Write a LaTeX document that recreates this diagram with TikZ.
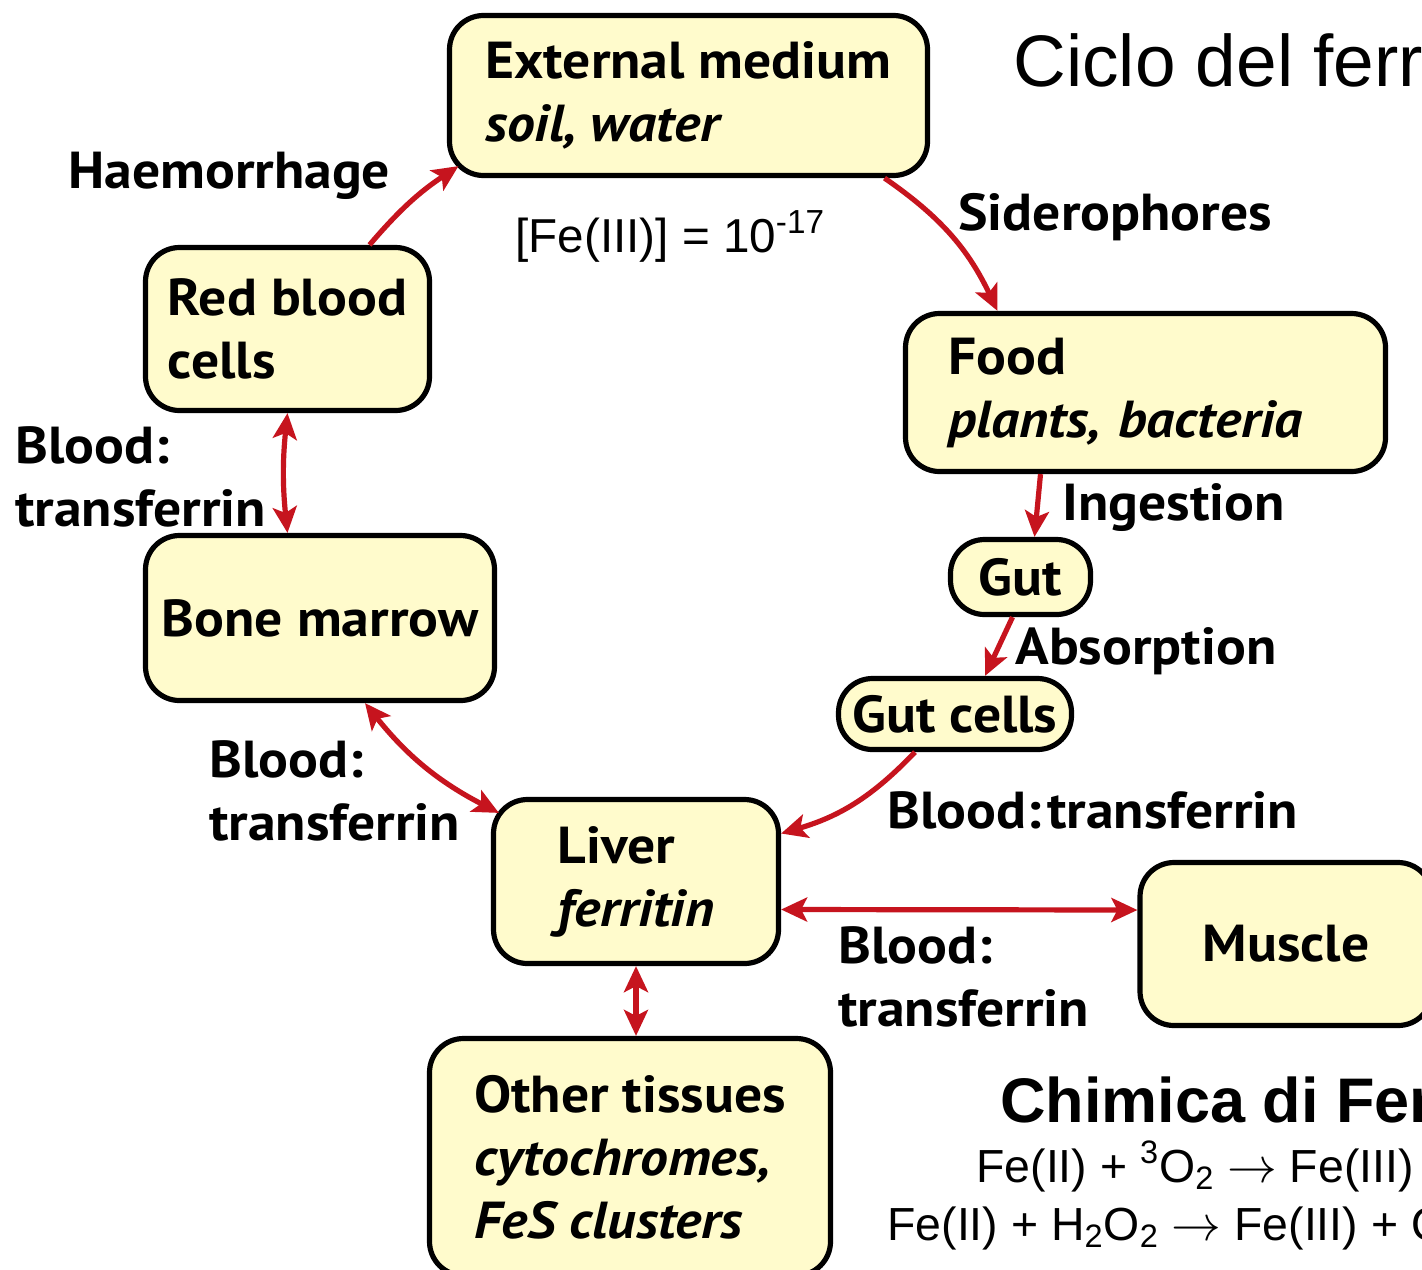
\documentclass[tikz,border=0pt]{standalone}
\usepackage{fontspec}
\setmainfont{PT Sans}[FakeStretch=1.07]
\newfontfamily\arialfont{Liberation Sans}
\usetikzlibrary{arrows.meta}
\definecolor{boxfill}{RGB}{255,251,204}
\definecolor{flowred}{RGB}{198,20,30}

\begin{document}
\frenchspacing
\begin{tikzpicture}[x=0.5pt,y=-0.5pt]
\tikzset{
  box/.style={rectangle,rounded corners=17pt,draw=black,line width=2.6pt,fill=boxfill,align=left,inner sep=0pt,font=\fontsize{26}{31.5}\selectfont\bfseries},
  flowlabel/.style={align=left,inner sep=0pt,anchor=base west,font=\fontsize{26}{31.5}\selectfont\bfseries},
  flow/.style={draw=flowred,line width=2.6pt,-{Stealth[length=13pt,width=12pt,inset=3pt]}},
  twoway/.style={flow,{Stealth[length=13pt,width=12pt,inset=3pt]}-{Stealth[length=13pt,width=12pt,inset=3pt]}},
  plaintext/.style={inner sep=0pt,anchor=base west}
}
\path[use as bounding box,clip] (0,0) rectangle (1422,1269);
\fill[white] (0,0) rectangle (1422,1269);

% compartments
\node[box,minimum width=239pt,minimum height=80pt] (ext) at (688.5,95.5) {External medium\\\textit{soil, water}};
\node[box,minimum width=142pt,minimum height=81.5pt] (rbc) at (287.5,329) {Red blood\\cells};
\node[box,minimum width=174.5pt,minimum height=82.5pt] (bone) at (320,618) {Bone marrow};
\node[box,minimum width=240pt,minimum height=79pt,text width=197pt] (food) at (1145.5,392.5) {Food\\\textit{plants, bacteria}};
\node[box,minimum width=70pt,minimum height=37.5pt] (gut) at (1020.5,577) {Gut};
\node[box,minimum width=116.5pt,minimum height=35.5pt] (gutc) at (955,714) {Gut cells};
\node[box,minimum width=142.5pt,minimum height=82pt] (liver) at (636,881.5) {Liver\\\textit{ferritin}};
\node[box,minimum width=146pt,minimum height=81.5pt] (muscle) at (1286,944) {Muscle};
\node[box,minimum width=200.5pt,minimum height=118.5pt] (other) at (630,1157) {Other tissues\\\textit{cytochromes,}\\\textit{FeS clusters}};

% transfer labels
\node[flowlabel] (haem) at (68,188) {Haemorrhage};
\node[flowlabel] (sidero) at (958,230) {Siderophores};
\node[flowlabel] (ingest) at (1062,520) {Ingestion};
\node[flowlabel] (absorb) at (1015,664) {Absorption};
\node[flowlabel] (bloodA) at (15,526) {Blood:\\transferrin};
\node[flowlabel] (bloodB) at (209,840) {Blood:\\transferrin};
\node[flowlabel] (bloodC) at (887,828) {Blood:\hspace{3pt}transferrin};
\node[flowlabel] (bloodD) at (838,1026) {Blood:\\transferrin};

% iron flows
\draw[flow] ([xshift=41pt]rbc.north) to[bend left=8] ([shift={(-115pt,6pt)}]ext.south);
\draw[flow] ([xshift=98pt]ext.south) to[bend left=15] ([xshift=-74pt]food.north);
\draw[flow] ([xshift=-52.5pt]food.south) -- ([xshift=7pt]gut.north);
\draw[flow] ([xshift=-4pt]gut.south) -- ([xshift=15pt]gutc.north);
\draw[flow] ([xshift=-20pt]gutc.south) to[bend left=15] ([yshift=24pt]liver.east);
\draw[twoway] ([yshift=-14pt]liver.east) -- ([yshift=17pt]muscle.west);
\draw[twoway] (liver.south) -- (liver.south |- other.north);
\draw[twoway] ([xshift=22.5pt]bone.south) to[bend right=12] ([shift={(4pt,-8pt)}]liver.north west);
\draw[twoway] (rbc.south) to[bend right=6] (rbc.south |- bone.north);

% slide texts
\node[plaintext,font=\arialfont\fontsize{36.5}{44}\selectfont] (title) at (1013,86) {Ciclo del ferr};
\node[plaintext,font=\arialfont\fontsize{23.8}{29}\selectfont] (feconc) at (515,252) {[Fe(III)] = 10\textsuperscript{-17}};
\node[plaintext,font=\arialfont\fontsize{31.5}{38}\selectfont\bfseries] (chem) at (1000,1122) {Chimica di Fer};
\node[plaintext,font=\arialfont\fontsize{23.2}{28}\selectfont] (eqA) at (976,1182) {Fe(II) + \textsuperscript{3}O\textsubscript{2} $\rightarrow$ Fe(III)};
\node[plaintext,font=\arialfont\fontsize{23.2}{28}\selectfont] (eqB) at (887,1240) {Fe(II) + H\textsubscript{2}O\textsubscript{2} $\rightarrow$ Fe(III) + O};
\end{tikzpicture}
\end{document}
